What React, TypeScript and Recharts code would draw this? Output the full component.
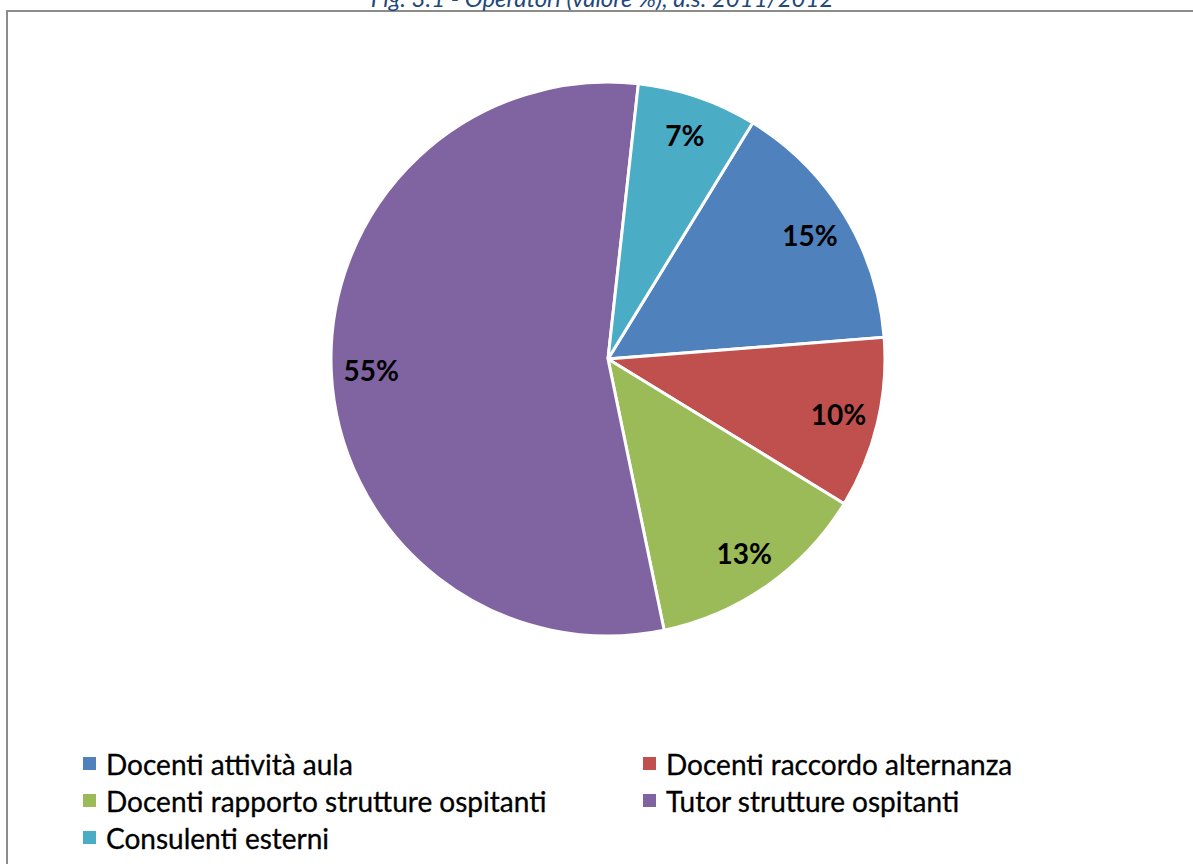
import React from "react";
import { PieChart, Pie, Cell, Legend } from "recharts";

// Operatori coinvolti, quota percentuale per figura
const categories = [
  "Docenti attività aula",
  "Docenti raccordo alternanza",
  "Docenti rapporto strutture ospitanti",
  "Tutor strutture ospitanti",
  "Consulenti esterni",
];
const shares = [15, 10, 13, 55, 7];
const sliceColors = ["#4F81BD", "#C0504D", "#9BBB59", "#8064A2", "#4BACC6"];
const title = "Fig. 3.1 - Operatori (valore %), a.s. 2011/2012";

const data = categories.map((name, i) => ({ name, value: shares[i] }));

const RAD = Math.PI / 180;
const FONT = "Lato, 'Open Sans', sans-serif";

const renderLabel = (props: any) => {
  const { cx, cy, midAngle, outerRadius, value } = props;
  const r = outerRadius - 40;
  const x = cx + r * Math.cos(-midAngle * RAD);
  const y = cy + r * Math.sin(-midAngle * RAD);
  return (
    <text
      x={x}
      y={y}
      textAnchor="middle"
      dominantBaseline="central"
      fill="#000"
      style={{ fontFamily: FONT, fontWeight: 700, fontSize: 28 }}
    >
      {`${value}%`}
    </text>
  );
};

// Two-column legend, entries kept in series order
const LegendGrid = (props: any) => {
  const payload = props.payload || [];
  const items = categories.map((name, i) => {
    const hit = payload.find((p: any) => p.value === name);
    return { value: name, color: hit ? hit.color : sliceColors[i] };
  });
  return (
    <div style={{ position: "relative", width: 1193, height: 120 }}>
      {items.map((it, i) => {
        const col = i % 2;
        const row = Math.floor(i / 2);
        return (
          <div
            key={it.value}
            style={{
              position: "absolute",
              left: col === 0 ? 83 : 643,
              top: row * 37,
              height: 37,
              display: "flex",
              alignItems: "center",
              whiteSpace: "nowrap",
              fontFamily: FONT,
              fontSize: 28,
              color: "#000",
              WebkitTextStroke: "0.3px #000",
            }}
          >
            <span
              style={{
                display: "inline-block",
                width: 13,
                height: 13,
                background: it.color,
                marginRight: 10,
              }}
            />
            <span>{it.value}</span>
          </div>
        );
      })}
    </div>
  );
};

export default function App() {
  return (
    <div
      style={{
        position: "absolute",
        left: 0,
        top: 0,
        width: 1193,
        height: 864,
        background: "#fff",
        overflow: "hidden",
      }}
    >
      <div
        style={{
          position: "absolute",
          left: 6,
          top: 10,
          width: 1300,
          height: 1000,
          borderTop: "2px solid #8c8c8c",
          borderLeft: "2px solid #8c8c8c",
        }}
      />
      <div
        style={{
          position: "absolute",
          left: 0,
          width: 1204,
          top: -14,
          textAlign: "center",
          fontFamily: FONT,
          fontStyle: "italic",
          fontSize: 24,
          lineHeight: "24px",
          color: "#1F497D",
          whiteSpace: "nowrap",
        }}
      >
        {title}
      </div>
      <div style={{ position: "absolute", left: 0, top: 0 }}>
        <PieChart width={1193} height={864} margin={{ top: 0, right: 0, bottom: 0, left: 0 }}>
          <Pie
            data={data}
            dataKey="value"
            nameKey="name"
            cx={608}
            cy={359}
            outerRadius={277}
            startAngle={58.5}
            endAngle={-301.5}
            stroke="#ffffff"
            strokeWidth={3}
            label={renderLabel}
            labelLine={false}
            isAnimationActive={false}
          >
            {data.map((d, i) => (
              <Cell key={d.name} fill={sliceColors[i]} />
            ))}
          </Pie>
          <Legend
            content={<LegendGrid />}
            wrapperStyle={{ position: "absolute", left: 0, top: 745, width: 1193 }}
          />
        </PieChart>
      </div>
    </div>
  );
}
